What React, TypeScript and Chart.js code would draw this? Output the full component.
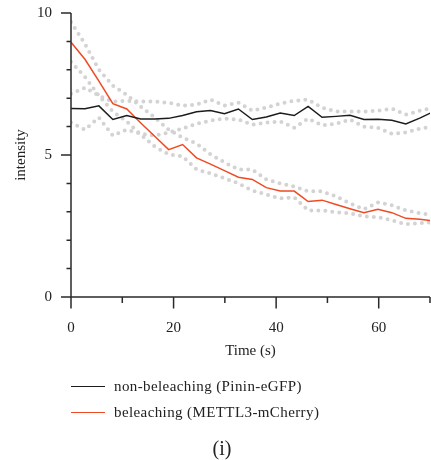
import React, { useEffect, useRef } from 'react';
import { Chart, registerables } from 'chart.js';

Chart.register(...registerables);

// time points (s)
const times = [0, 2.72, 5.44, 8.16, 10.88, 13.6, 16.32, 19.04, 21.76, 24.48, 27.2, 29.92, 32.64, 35.36, 38.08, 40.8, 43.52, 46.24, 48.96, 51.68, 54.4, 57.12, 59.84, 62.56, 65.28, 68, 70.72];

// non-beleaching (Pinin-eGFP)
const nonBleachMean = [6.64, 6.63, 6.73, 6.25, 6.39, 6.27, 6.27, 6.29, 6.39, 6.52, 6.57, 6.45, 6.62, 6.25, 6.34, 6.48, 6.39, 6.71, 6.33, 6.36, 6.4, 6.25, 6.26, 6.22, 6.09, 6.3, 6.53];
const nonBleachUpper = [7.16, 7.37, 7.09, 6.88, 6.91, 6.88, 6.88, 6.84, 6.74, 6.77, 6.95, 6.74, 6.84, 6.56, 6.67, 6.81, 6.91, 6.95, 6.67, 6.53, 6.53, 6.53, 6.56, 6.63, 6.42, 6.56, 6.67];
const nonBleachLower = [6.14, 5.89, 6.32, 5.68, 5.89, 5.75, 5.68, 5.79, 5.93, 6.1, 6.21, 6.28, 6.25, 6.07, 6.14, 6.18, 5.96, 6.28, 6.04, 6.1, 6.25, 6.0, 5.96, 5.75, 5.79, 5.93, 6.0];

// beleaching (METTL3-mCherry)
const bleachMean = [8.97, 8.37, 7.6, 6.81, 6.62, 6.13, 5.66, 5.19, 5.37, 4.9, 4.68, 4.45, 4.22, 4.14, 3.85, 3.73, 3.73, 3.36, 3.41, 3.26, 3.11, 2.97, 3.09, 2.97, 2.77, 2.74, 2.68];
const bleachUpper = [9.68, 8.91, 8.0, 7.44, 7.12, 6.7, 6.32, 5.89, 5.61, 5.4, 5.02, 4.74, 4.49, 4.49, 4.14, 4.0, 3.89, 3.72, 3.72, 3.54, 3.3, 3.09, 3.33, 3.23, 3.05, 2.95, 2.88];
const bleachLower = [8.28, 7.75, 7.09, 6.53, 6.18, 5.72, 5.3, 5.02, 4.95, 4.49, 4.35, 4.18, 4.0, 3.75, 3.61, 3.47, 3.51, 3.05, 3.05, 2.98, 2.95, 2.84, 2.81, 2.7, 2.56, 2.6, 2.63];

// axes
const xMin = 0;
const xMax = 70;
const xStep = 10;
const xLabelEvery = 20;
const yMin = 0;
const yMax = 10;
const yStep = 1;
const yLabelEvery = 5;

const seriesLabels = ['non-beleaching (Pinin-eGFP)', 'beleaching (METTL3-mCherry)'];
const xTitle = 'Time (s)';
const yTitle = 'intensity';
const caption = '(i)';

const FONT = '"Liberation Serif", "DejaVu Serif", serif';
const BLACK = '#1c1c1c';
const RED = '#ef4a24';
const GREY = '#d3d3d3';
const AXIS = '#2a2a2a';

export default function App() {
  const ref = useRef<HTMLCanvasElement>(null);

  useEffect(() => {
    const canvas = ref.current;
    if (!canvas) return;
    const pts = (ys: number[]) => times.map((t, i) => ({ x: t, y: ys[i] }));
    const mean = (label: string, ys: number[], color: string) => ({
      label,
      data: pts(ys),
      borderColor: color,
      backgroundColor: color,
      borderWidth: 1.5,
      pointRadius: 0,
      tension: 0,
      fill: false,
    });
    const band = (label: string, ys: number[]) => ({
      label,
      data: pts(ys),
      borderColor: GREY,
      borderWidth: 4,
      borderDash: [0, 7],
      borderCapStyle: 'round',
      pointRadius: 0,
      tension: 0,
      fill: false,
    });

    const axesPlugin = {
      id: 'axesPlugin',
      afterDraw(chart: any) {
        const { ctx } = chart;
        const x = chart.scales.x;
        const y = chart.scales.y;
        const x0 = x.getPixelForValue(xMin);
        const y0 = y.getPixelForValue(yMin);
        ctx.save();
        ctx.strokeStyle = AXIS;
        ctx.lineWidth = 1.5;
        ctx.lineCap = 'butt';
        ctx.beginPath();
        ctx.moveTo(x0, y.getPixelForValue(yMax));
        ctx.lineTo(x0, y0);
        ctx.moveTo(x0, y0);
        ctx.lineTo(x.getPixelForValue(xMax), y0);
        for (let v = yMin; v <= yMax; v += yStep) {
          const len = v % yLabelEvery === 0 ? 10 : 4.5;
          const py = y.getPixelForValue(v);
          ctx.moveTo(x0 - len, py);
          ctx.lineTo(x0, py);
        }
        for (let v = xMin; v <= xMax; v += xStep) {
          const len = v % xLabelEvery === 0 ? 11.5 : 6;
          const px = x.getPixelForValue(v);
          ctx.moveTo(px, y0);
          ctx.lineTo(px, y0 + len);
        }
        ctx.stroke();
        ctx.restore();
      },
    };

    const noPad = (s: any) => {
      s.paddingTop = 0;
      s.paddingBottom = 0;
      s.paddingLeft = 0;
      s.paddingRight = 0;
    };

    const chart = new Chart(canvas, {
      type: 'line',
      data: {
        datasets: [
          mean(seriesLabels[0], nonBleachMean, BLACK),
          mean(seriesLabels[1], bleachMean, RED),
          band('non-beleaching upper', nonBleachUpper),
          band('non-beleaching lower', nonBleachLower),
          band('beleaching upper', bleachUpper),
          band('beleaching lower', bleachLower),
        ] as any,
      },
      options: {
        animation: false,
        responsive: false,
        devicePixelRatio: 1,
        layout: { padding: { left: 0, right: 1, top: 13, bottom: 100 } },
        plugins: { legend: { display: false }, tooltip: { enabled: false } },
        scales: {
          x: {
            type: 'linear',
            min: xMin,
            max: xMax,
            grid: { display: false, drawTicks: false },
            border: { display: false },
            ticks: {
              stepSize: xStep,
              autoSkip: false,
              maxRotation: 0,
              padding: 22,
              color: '#222',
              font: { family: FONT, size: 15 },
              callback: (v: any) => (Number(v) % xLabelEvery === 0 ? String(v) : ''),
            },
            title: {
              display: true,
              text: xTitle,
              color: '#222',
              font: { family: FONT, size: 15 },
              padding: { top: 0, bottom: 0 },
            },
            afterFit: (s: any) => {
              s.height = 63;
              noPad(s);
            },
          },
          y: {
            type: 'linear',
            min: yMin,
            max: yMax,
            grid: { display: false, drawTicks: false },
            border: { display: false },
            ticks: {
              stepSize: yStep,
              autoSkip: false,
              padding: 19,
              color: '#222',
              font: { family: FONT, size: 15 },
              callback: (v: any) => (Number(v) % yLabelEvery === 0 ? String(v) : ''),
            },
            title: {
              display: true,
              text: yTitle,
              color: '#222',
              font: { family: FONT, size: 15 },
              padding: { top: 12, bottom: 0 },
            },
            afterFit: (s: any) => {
              s.width = 71;
              noPad(s);
            },
          },
        },
      } as any,
      plugins: [axesPlugin],
    });
    return () => chart.destroy();
  }, []);

  const textStyle: React.CSSProperties = {
    position: 'absolute',
    fontFamily: FONT,
    fontSize: 15,
    lineHeight: '20px',
    letterSpacing: '0.4px',
    color: '#222',
    whiteSpace: 'nowrap',
  };

  return (
    <div style={{ position: 'absolute', left: 0, top: 0, width: 431, height: 460, background: '#fff', overflow: 'hidden' }}>
      <canvas ref={ref} width={431} height={460} style={{ position: 'absolute', left: 0, top: 0 }} />
      <div style={{ position: 'absolute', left: 71, top: 386, width: 34, height: 0, borderTop: `1.5px solid ${BLACK}` }} />
      <div style={{ ...textStyle, left: 114, top: 376 }}>{seriesLabels[0]}</div>
      <div style={{ position: 'absolute', left: 71, top: 412, width: 34, height: 0, borderTop: `1.5px solid ${RED}` }} />
      <div style={{ ...textStyle, left: 114, top: 402 }}>{seriesLabels[1]}</div>
      <div style={{ ...textStyle, left: 0, width: 444, textAlign: 'center', top: 435, fontSize: 20, lineHeight: '26px', letterSpacing: '0px' }}>{caption}</div>
    </div>
  );
}
